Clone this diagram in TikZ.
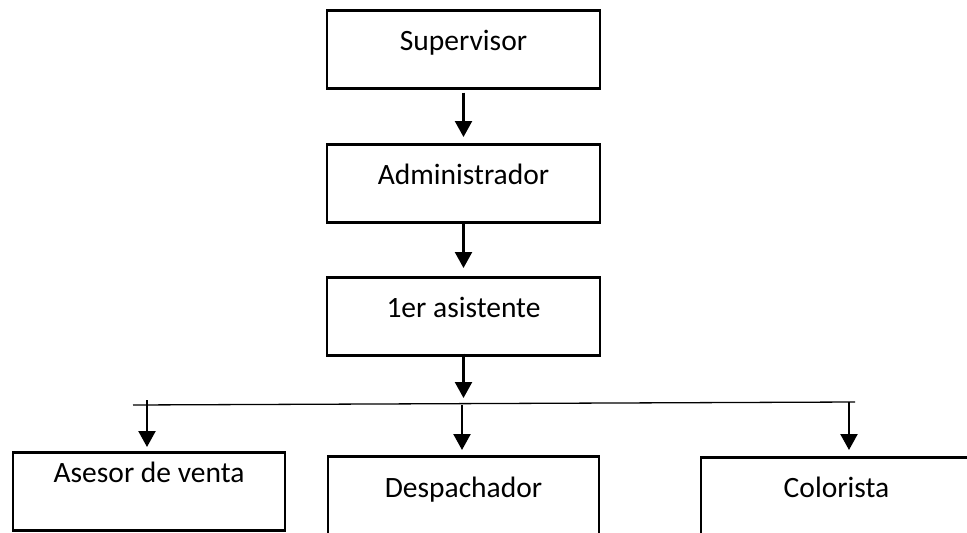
\documentclass[tikz,border=0pt]{standalone}
\usepackage{fontspec}
\setmainfont{Carlito}
\usetikzlibrary{arrows.meta,positioning}
\tikzset{
  post/.style={draw=black,line width=2.6pt,minimum width=273pt,inner xsep=0pt,inner ysep=0pt,text height=40pt,text depth=38pt,anchor=north},
  arr/.style={-{Triangle[length=16pt,width=17pt]},draw=black,line width=2.3pt},
  bus/.style={draw=black,line width=1.3pt}
}

\begin{document}
\begin{tikzpicture}[x=1pt,y=-1pt,font=\fontsize{29.5pt}{34pt}\selectfont]
  \useasboundingbox (0,0) rectangle (967,533);
  \fill[white] (0,0) rectangle (967,533);
  \clip (0,0) rectangle (967,533);
  \node[post] (sup) at (463.5,9) {Supervisor};
  \node[post] (adm) at (463.5,143) {Administrador};
  \node[post] (asis) at (463.5,276) {1er asistente};
  \node[post,minimum width=272pt,text height=30pt,text depth=48pt] (ases) at (149,451) {Asesor de venta};
  \node[post,minimum width=271pt,text height=41pt,text depth=42pt] (desp) at (463.5,455) {Despachador};
  \node[post,minimum width=271pt,text height=40pt,text depth=43pt] (col) at (836.5,456) {Colorista};
  % line of the three posts below
  \coordinate (busL) at (133,405);
  \coordinate (busR) at (855,402);
  \draw[bus] (busL) -- (busR);
  \coordinate (tapA) at (147,400);
  \coordinate (tapB) at (462,405);
  \coordinate (tapC) at (849,402);
  \draw[arr,shorten <=3pt,shorten >=6pt] (sup.south) -- (adm.north);
  \draw[arr,shorten >=8pt] (adm.south) -- (asis.north);
  \draw[arr,shorten <=-3pt,shorten >=7pt] (asis.south) -- (asis.south |- busL);
  \draw[arr,shorten >=4pt] (tapA) -- (tapA |- ases.north);
  \draw[arr,shorten >=5pt] (tapB) -- (tapB |- desp.north);
  \draw[arr,shorten >=6pt] (tapC) -- (tapC |- col.north);
\end{tikzpicture}
\end{document}
